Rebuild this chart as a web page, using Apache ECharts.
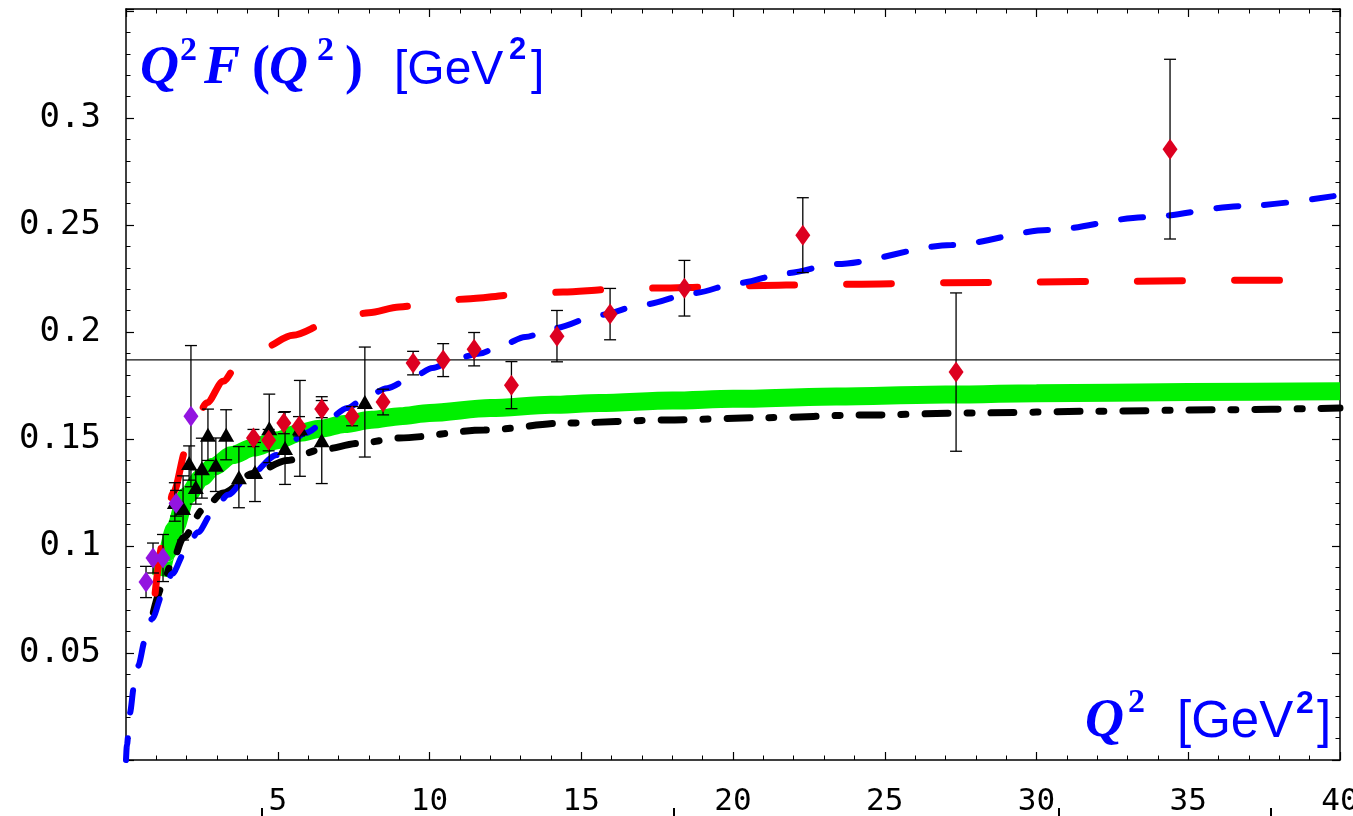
<!DOCTYPE html>
<html><head><meta charset="utf-8">
<script src="https://cdn.jsdelivr.net/npm/echarts@6/dist/echarts.min.js"></script>
<style>html,body{margin:0;padding:0;background:#fff}#c{width:1353px;height:816px}</style>
</head><body><div id="c"></div>
<script>
// ---- tick labels ----
const xTickValues = [5, 10, 15, 20, 25, 30, 35, 40];
const xTickLabels = ['5', '10', '15', '20', '25', '30', '35', '40'];
const yTickValues = [0.05, 0.1, 0.15, 0.2, 0.25, 0.3];
const yTickLabels = ['0.05', '0.1', '0.15', '0.2', '0.25', '0.3'];

// ---- horizontal reference line ----
const refLineY = 0.187;

// ---- curves [Q^2, Q^2 F] ----
const greenBand = [[1.15,0.086],[1.34,0.0967],[1.6,0.108],[2.0,0.1235],[2.5,0.132],[2.87,0.137],[3.5,0.1425],[4.19,0.146],[5,0.1495],[5.73,0.153],[6.4,0.1548],[7.2,0.157],[8.1,0.159],[9.03,0.1607],[10,0.1622],[12,0.1645],[14,0.166],[15.6,0.1668],[18,0.168],[20,0.1688],[23.4,0.1699],[27,0.1708],[30,0.1714],[35,0.172],[40,0.1724]];
const redCurve = [[0.96,0.078],[1.22,0.102],[1.56,0.125],[2.0,0.146],[2.67,0.167],[3.2,0.177],[3.65,0.184],[4.5,0.1925],[5.5,0.1985],[6.7,0.2045],[8,0.209],[9,0.2117],[10,0.2135],[11.2,0.2155],[12.9,0.2175],[14.4,0.2187],[16,0.22],[17.6,0.2206],[19.3,0.2211],[21,0.2218],[22.5,0.2221],[24,0.2224],[27,0.223],[30,0.2234],[33,0.2238],[36.8,0.2242],[39.5,0.2244]];
const blueCurve = [[0,0],[0.03,0.007],[0.13,0.022],[0.26,0.034],[0.4,0.044],[0.63,0.056],[0.86,0.066],[1.22,0.078],[1.52,0.087],[1.94,0.097],[2.37,0.1065],[2.87,0.116],[3.36,0.124],[4.0,0.132],[4.97,0.1425],[5.95,0.153],[6.5,0.1575],[7.3,0.1645],[7.9,0.1696],[8.6,0.1738],[9.46,0.179],[10.1,0.1832],[10.9,0.1878],[11.66,0.19],[12.4,0.194],[13.15,0.1977],[14.13,0.2019],[15.6,0.208],[17.1,0.213],[18.7,0.2182],[20.2,0.223],[21.8,0.2276],[23.4,0.2318],[27.2,0.2407],[30.4,0.2477],[33.6,0.2537],[36.8,0.2589],[40,0.264]];
const blackCurve = [[0.9,0.069],[1.22,0.082],[1.5,0.092],[1.9,0.104],[2.54,0.117],[3.2,0.1248],[4.2,0.134],[5.3,0.14],[6.4,0.145],[7.7,0.148],[9.0,0.1505],[11.8,0.1542],[14.5,0.1575],[17.8,0.1589],[21.1,0.16],[24.2,0.1612],[28,0.1622],[32,0.163],[36,0.1637],[40,0.1645]];

// ---- data points [Q^2, value, error] ----
const redPoints = [[4.2,0.1505,0.004],[4.7,0.1495,0.005],[5.2,0.1575,0.005],[5.7,0.156,0.0045],[6.45,0.164,0.004],[7.45,0.1607,0.0045],[8.47,0.1673,0.006],[9.46,0.1855,0.0055],[10.45,0.1869,0.0077],[11.47,0.192,0.0078],[12.7,0.1752,0.011],[14.2,0.1981,0.012],[15.95,0.2084,0.012],[18.4,0.2205,0.013],[22.3,0.2453,0.0175],[27.35,0.1813,0.037],[34.4,0.2855,0.042]];
const purplePoints = [[0.66,0.0832,0.0073],[0.89,0.0944,0.007],[1.22,0.0944,0.011],[1.65,0.12,0.006],[2.14,0.1607,0.033]];
const blackPoints = [[1.61,0.1206,0.009],[1.88,0.1178,0.015],[2.08,0.1388,0.008],[2.3,0.1276,0.008],[2.5,0.1364,0.014],[2.7,0.152,0.012],[2.96,0.138,0.0125],[3.3,0.152,0.0117],[3.72,0.1322,0.0143],[4.25,0.1346,0.0138],[4.72,0.155,0.016],[5.24,0.1458,0.017],[5.73,0.155,0.0224],[6.45,0.1495,0.0203],[7.87,0.1673,0.0257]];

const errData = redPoints.concat(purplePoints, blackPoints);

function fmt(values, labels) {
  return function (v) {
    for (let i = 0; i < values.length; i++) if (Math.abs(values[i] - v) < 1e-9) return labels[i];
    return '';
  };
}
const labelFont = 'DejaVu Sans Mono';
function axisBase(pos, showLabel, isX) {
  return {
    type: 'value', position: pos,
    min: 0, max: isX ? 40 : 0.351, interval: isX ? 5 : 0.05,
    axisLine: { show: true, onZero: false, lineStyle: { color: '#000', width: 1.5 } },
    axisTick: { show: true, inside: true, length: 8, lineStyle: { color: '#000', width: 1.2 } },
    minorTick: { show: true, splitNumber: 5, length: 4.5, lineStyle: { color: '#000', width: 1 } },
    splitLine: { show: false }, minorSplitLine: { show: false },
    axisLabel: {
      show: showLabel,
      formatter: isX ? fmt(xTickValues, xTickLabels) : fmt(yTickValues, yTickLabels),
      fontFamily: labelFont, fontSize: isX ? 31 : 34, color: '#000',
      margin: isX ? 26 : 25,
      showMinLabel: true, showMaxLabel: true, hideOverlap: false
    }
  };
}

function errRender(params, api) {
  const x = api.value(0), y = api.value(1), e = api.value(2);
  const t = api.coord([x, y + e]), b = api.coord([x, y - e]);
  const hw = 6;
  const st = { stroke: '#000', lineWidth: 1.3 };
  return { type: 'group', children: [
    { type: 'line', shape: { x1: t[0], y1: t[1], x2: b[0], y2: b[1] }, style: st },
    { type: 'line', shape: { x1: t[0] - hw, y1: t[1], x2: t[0] + hw, y2: t[1] }, style: st },
    { type: 'line', shape: { x1: b[0] - hw, y1: b[1], x2: b[0] + hw, y2: b[1] }, style: st }
  ]};
}

const blue = '#0000ff';
const SERIF = 'Liberation Serif', SANS = 'Liberation Sans';
// text piece: left x, baseline y
function piece(str, x, base, family, size, weight, italic) {
  return { type: 'text', x: x, y: base - 0.33 * size, z: 10, silent: true,
    style: { text: str, fill: blue, align: 'left', verticalAlign: 'middle',
      font: (italic ? 'italic ' : '') + (weight || 'normal') + ' ' + size + 'px "' + family + '"' } };
}
const titleTop = [
  piece('Q', 140, 87, SERIF, 54, 'bold', true),
  piece('2', 180, 62, SERIF, 34, 'bold', false),
  piece('F', 204, 87, SERIF, 54, 'bold', true),
  piece('(', 252, 87, SERIF, 54, 'bold', false),
  piece('Q', 269, 87, SERIF, 54, 'bold', true),
  piece('2', 317, 62, SERIF, 34, 'bold', false),
  piece(')', 345, 87, SERIF, 54, 'bold', false),
  piece('[GeV', 394, 87, SANS, 48, 'normal', false),
  piece('2', 509, 61, SANS, 31, 'bold', false),
  piece(']', 531, 87, SANS, 48, 'normal', false)
];
const titleBottom = [
  piece('Q', 1085, 740, SERIF, 54, 'bold', true),
  piece('2', 1128, 714, SERIF, 34, 'bold', false),
  piece('[GeV', 1177, 740, SANS, 51, 'normal', false),
  piece('2', 1296, 715, SANS, 32, 'bold', false),
  piece(']', 1317, 740, SANS, 51, 'normal', false)
];
const artifacts = [261, 673, 1058, 1270].map(function (px) {
  return { type: 'rect', left: px, top: 808, shape: { width: 2, height: 8 }, style: { fill: '#000' } };
});

const chart = echarts.init(document.getElementById('c'), null, { renderer: 'canvas' });
chart.setOption({
  animation: false,
  backgroundColor: '#fff',
  grid: { left: 126, right: 13, top: 9, bottom: 56, containLabel: false, outerBoundsMode: 'none' },
  xAxis: [axisBase('bottom', true, true), axisBase('top', false, true)],
  yAxis: [axisBase('left', true, false), axisBase('right', false, false)],
  graphic: titleTop.concat(titleBottom, artifacts),
  series: [
    { type: 'line', name: 'ref', data: [[0, refLineY], [40, refLineY]], showSymbol: false, z: 1,
      lineStyle: { color: '#111', width: 1.2 } },
    { type: 'line', name: 'band', data: greenBand, showSymbol: false, smooth: 0.3, smoothMonotone: 'x', z: 2,
      lineStyle: { color: '#00f000', width: 18, cap: 'butt' } },
    { type: 'line', name: 'black', data: blackCurve, showSymbol: false, smooth: 0.3, smoothMonotone: 'x', z: 3,
      lineStyle: { color: '#000', width: 7, cap: 'round', type: [23, 19, 5, 19] } },
    { type: 'line', name: 'red', data: redCurve, showSymbol: false, smooth: 0.3, smoothMonotone: 'x', z: 3,
      lineStyle: { color: '#ff0000', width: 7, cap: 'round', type: [45, 52] } },
    { type: 'line', name: 'blue', data: blueCurve, showSymbol: false, smooth: 0.3, smoothMonotone: 'x', z: 3,
      lineStyle: { color: blue, width: 6, cap: 'round', type: [22, 26] } },
    { type: 'custom', name: 'err', data: errData, renderItem: errRender, encode: { x: 0, y: 1 }, z: 4 },
    { type: 'scatter', name: 'black pts', data: blackPoints, symbol: 'triangle', symbolSize: [16, 14], z: 5,
      itemStyle: { color: '#000', opacity: 1 } },
    { type: 'scatter', name: 'purple pts', data: purplePoints, symbol: 'diamond', symbolSize: [15, 21], z: 5,
      itemStyle: { color: '#9314e0', opacity: 1 } },
    { type: 'scatter', name: 'red pts', data: redPoints, symbol: 'diamond', symbolSize: [15, 21], z: 6,
      itemStyle: { color: '#dd0020', opacity: 1 } }
  ]
});
</script>
</body></html>
